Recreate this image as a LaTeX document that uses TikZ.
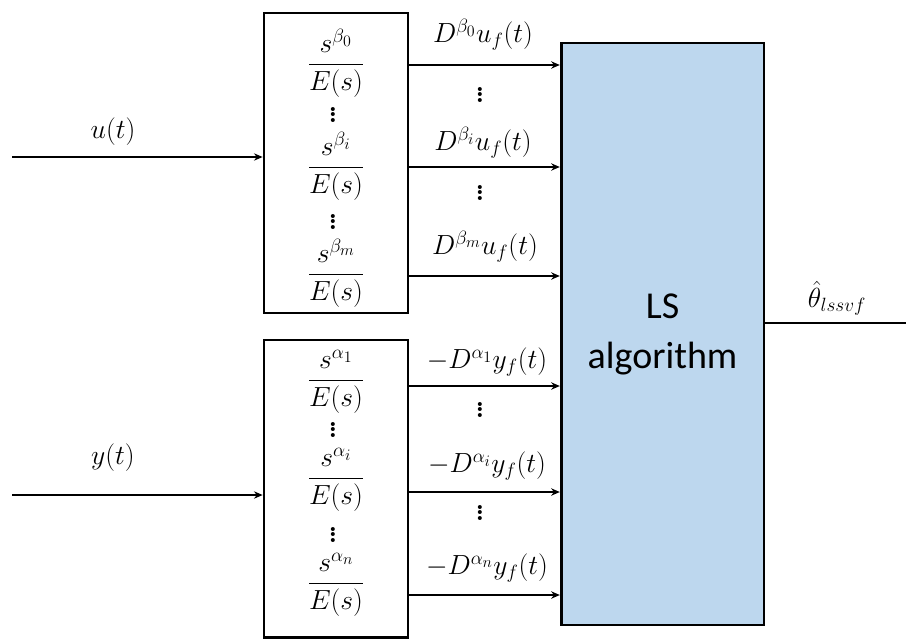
\documentclass[tikz,border=0pt]{standalone}
\usepackage{amsmath}
\usepackage{fontspec}
\newfontfamily\lsfont{Carlito}
\usetikzlibrary{arrows.meta}
\definecolor{lsblue}{HTML}{BDD7EE}
\newcommand\vdotsc{\vbox{\baselineskip4pt\lineskiplimit0pt\hbox{\bfseries.}\hbox{\bfseries.}\hbox{\bfseries.}}}
\tikzset{
  fbox/.style={draw,line width=2pt,minimum width=108pt,inner sep=0pt},
  sig/.style={line width=2pt,-{Stealth[length=6.5pt,width=5.5pt]}},
  lsbox/.style={draw,line width=2pt,fill=lsblue,minimum width=152pt,minimum height=436.5pt,
    align=center,font=\lsfont\fontsize{28.5}{37.5}\selectfont},
  txt/.style={inner sep=0pt},
}
\begin{document}
\begin{tikzpicture}[x=0.75pt,y=-0.75pt,font=\huge]
\useasboundingbox (0,0) rectangle (906,639);
\node[fbox,minimum height=225pt] (ubank) at (336,163) {};
\node[fbox,minimum height=223pt] (ybank) at (336,488.5) {};
\node[lsbox] (ls) at (662.5,334) {LS\\algorithm};
\node[txt] (fb0) at (336,63) {$\dfrac{s^{\beta_0}}{E(s)}$};
\node[txt] (dfb1) at (333,115) {\vdotsc};
\node[txt] (fbi) at (336,166) {$\dfrac{s^{\beta_i}}{E(s)}$};
\node[txt] (dfb2) at (333,222) {\vdotsc};
\node[txt] (fbm) at (336,273) {$\dfrac{s^{\beta_m}}{E(s)}$};
\node[txt] (fa1) at (336,382) {$\dfrac{s^{\alpha_1}}{E(s)}$};
\node[txt] (dfa1) at (333,430) {\vdotsc};
\node[txt] (fai) at (336,480) {$\dfrac{s^{\alpha_i}}{E(s)}$};
\node[txt] (dfa2) at (333,535) {\vdotsc};
\node[txt] (fan) at (336,585) {$\dfrac{s^{\alpha_n}}{E(s)}$};
\coordinate (uin) at (12,157);
\coordinate (yin) at (12,495);
\coordinate (thout) at (906,323);
\draw[sig] (uin) -- (ubank.west |- uin);
\draw[sig] (yin) -- (ybank.west |- yin);
\node[txt] (ulab) at (113,132) {$u(t)$};
\node[txt] (ylab) at (113,458) {$y(t)$};
\draw[sig] (ubank.east |- 0,65) -- (ls.west |- 0,65);
\draw[sig] (ubank.east |- 0,167) -- (ls.west |- 0,167);
\draw[sig] (ubank.east |- 0,276) -- (ls.west |- 0,276);
\draw[sig] (ybank.east |- 0,386) -- (ls.west |- 0,386);
\draw[sig] (ybank.east |- 0,492) -- (ls.west |- 0,492);
\draw[sig] (ybank.east |- 0,595) -- (ls.west |- 0,595);
\node[txt] (lu0) at (483,35) {$D^{\beta_0}u_f(t)$};
\node[txt] (dlu1) at (480,95) {\vdotsc};
\node[txt] (lui) at (483,143) {$D^{\beta_i}u_f(t)$};
\node[txt] (dlu2) at (480,193) {\vdotsc};
\node[txt] (lum) at (485,247) {$D^{\beta_m}u_f(t)$};
\node[txt] (ly1) at (487,362) {$-D^{\alpha_1}y_f(t)$};
\node[txt] (dly1) at (480,410) {\vdotsc};
\node[txt] (lyi) at (487,466) {$-D^{\alpha_i}y_f(t)$};
\node[txt] (dly2) at (480,513) {\vdotsc};
\node[txt] (lyn) at (487,568) {$-D^{\alpha_n}y_f(t)$};
\draw[line width=2pt] (ls.east |- thout) -- (thout);
\node[txt] (thlab) at (837,298) {$\hat{\theta}_{lssvf}$};
\end{tikzpicture}
\end{document}
